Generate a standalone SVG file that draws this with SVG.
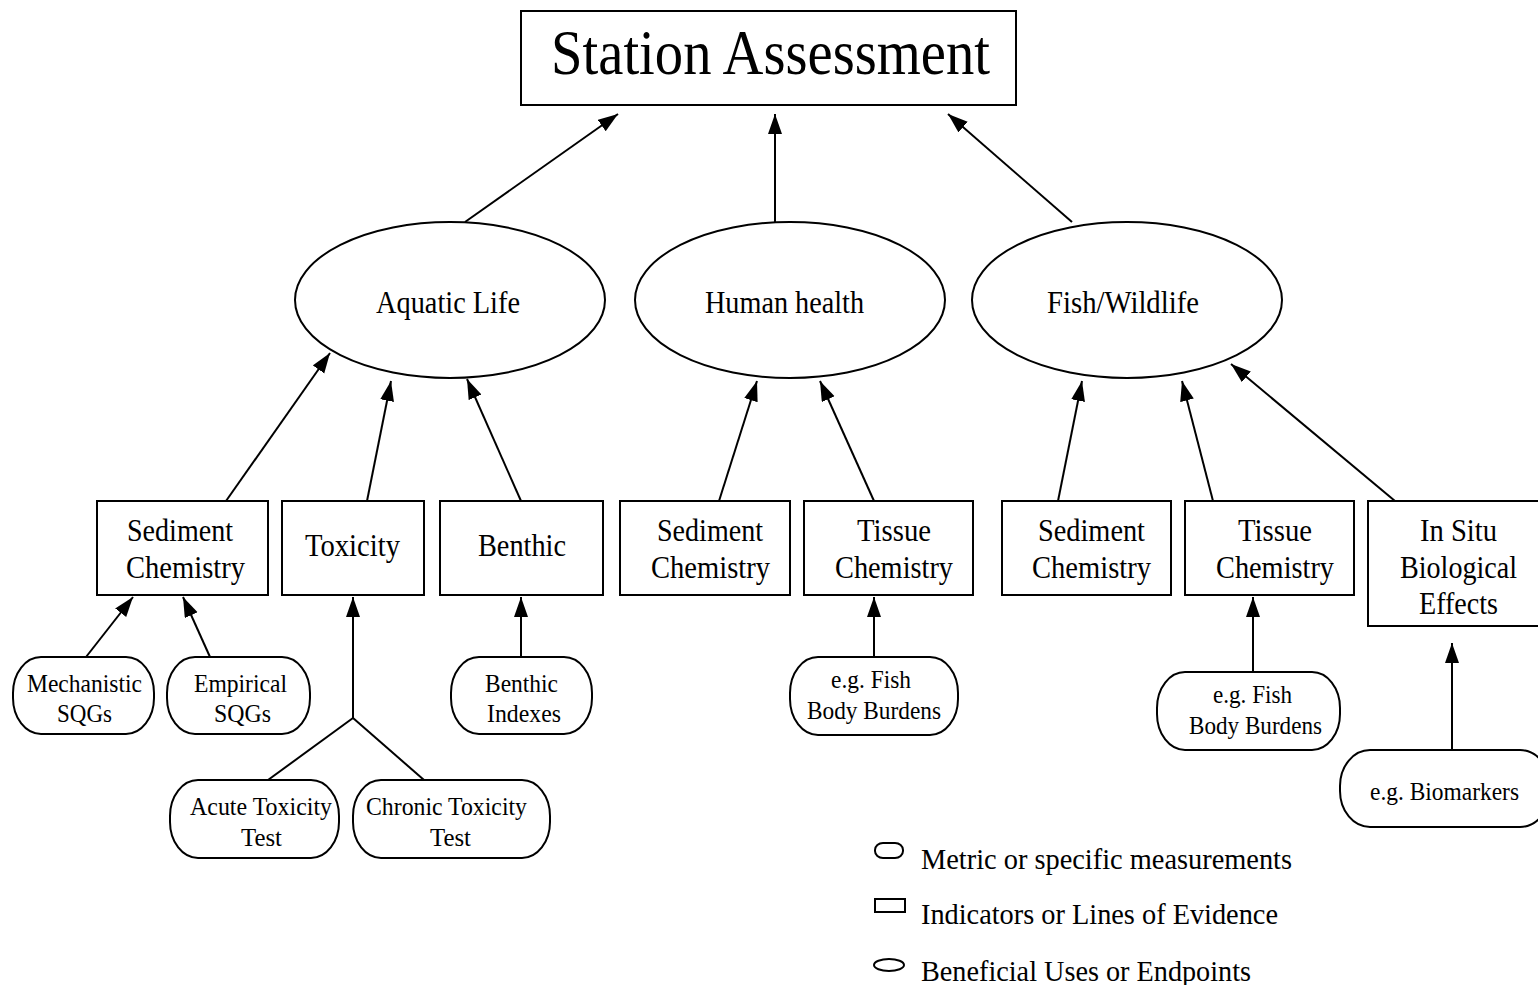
<svg xmlns="http://www.w3.org/2000/svg" width="1538" height="985" viewBox="0 0 1538 985">
<defs>
<marker id="arr" markerUnits="userSpaceOnUse" markerWidth="22" markerHeight="16" refX="20" refY="7" orient="auto">
<path d="M0,0 L20,7 L0,14 z" fill="#000"/>
</marker>
<style>
.n{fill:#fff;stroke:#000;stroke-width:2}
.t{font-family:"Liberation Serif","Times New Roman",serif;fill:#000}
.c{stroke:#000;stroke-width:2;fill:none}
.a{marker-end:url(#arr)}
</style>
</defs>
<rect width="1538" height="985" fill="#fff"/>
<g id="connectors">
<line class="c a" x1="465" y1="222" x2="618" y2="114"/>
<line class="c a" x1="775" y1="222" x2="775" y2="114"/>
<line class="c a" x1="1072" y1="222" x2="948" y2="114"/>
<line class="c a" x1="226" y1="501" x2="330" y2="353"/>
<line class="c a" x1="367" y1="501" x2="391" y2="381"/>
<line class="c a" x1="521" y1="501" x2="467" y2="379"/>
<line class="c a" x1="719" y1="501" x2="757" y2="381"/>
<line class="c a" x1="874" y1="501" x2="820" y2="381"/>
<line class="c a" x1="1058" y1="501" x2="1082" y2="381"/>
<line class="c a" x1="1213" y1="501" x2="1182" y2="381"/>
<line class="c a" x1="1395" y1="501" x2="1231" y2="364"/>
<line class="c a" x1="86" y1="657" x2="133" y2="597"/>
<line class="c a" x1="210" y1="657" x2="183" y2="597"/>
<line class="c a" x1="353" y1="718" x2="353" y2="597"/>
<line class="c" x1="268" y1="780" x2="353" y2="718"/>
<line class="c" x1="424" y1="780" x2="353" y2="718"/>
<line class="c a" x1="521" y1="657" x2="521" y2="597"/>
<line class="c a" x1="874" y1="657" x2="874" y2="597"/>
<line class="c a" x1="1253" y1="672" x2="1253" y2="597"/>
<line class="c a" x1="1452" y1="750" x2="1452" y2="643"/>
</g>
<g id="station">
<rect class="n" x="521" y="11" width="495" height="94"/>
<text class="t" x="551" y="74" font-size="64" textLength="439" lengthAdjust="spacingAndGlyphs">Station Assessment</text>
</g>
<g id="aquatic">
<ellipse class="n" cx="450" cy="300" rx="155" ry="78"/>
<text class="t" x="376" y="313" font-size="32" textLength="144" lengthAdjust="spacingAndGlyphs">Aquatic Life</text>
</g>
<g id="human">
<ellipse class="n" cx="790" cy="300" rx="155" ry="78"/>
<text class="t" x="705" y="313" font-size="32" textLength="159" lengthAdjust="spacingAndGlyphs">Human health</text>
</g>
<g id="fish">
<ellipse class="n" cx="1127" cy="300" rx="155" ry="78"/>
<text class="t" x="1047" y="313" font-size="32" textLength="152" lengthAdjust="spacingAndGlyphs">Fish/Wildlife</text>
</g>
<g id="sed1">
<rect class="n" x="97" y="501" width="171" height="94"/>
<text class="t" x="127" y="541" font-size="31" textLength="106" lengthAdjust="spacingAndGlyphs">Sediment</text>
<text class="t" x="126" y="578" font-size="31" textLength="119" lengthAdjust="spacingAndGlyphs">Chemistry</text>
</g>
<g id="tox">
<rect class="n" x="282" y="501" width="142" height="94"/>
<text class="t" x="305" y="556" font-size="31" textLength="95" lengthAdjust="spacingAndGlyphs">Toxicity</text>
</g>
<g id="benthic">
<rect class="n" x="440" y="501" width="163" height="94"/>
<text class="t" x="478" y="556" font-size="31" textLength="88" lengthAdjust="spacingAndGlyphs">Benthic</text>
</g>
<g id="sed2">
<rect class="n" x="620" y="501" width="170" height="94"/>
<text class="t" x="657" y="541" font-size="31" textLength="106" lengthAdjust="spacingAndGlyphs">Sediment</text>
<text class="t" x="651" y="578" font-size="31" textLength="119" lengthAdjust="spacingAndGlyphs">Chemistry</text>
</g>
<g id="tissue1">
<rect class="n" x="804" y="501" width="169" height="94"/>
<text class="t" x="857" y="541" font-size="31" textLength="74" lengthAdjust="spacingAndGlyphs">Tissue</text>
<text class="t" x="835" y="578" font-size="31" textLength="118" lengthAdjust="spacingAndGlyphs">Chemistry</text>
</g>
<g id="sed3">
<rect class="n" x="1002" y="501" width="169" height="94"/>
<text class="t" x="1038" y="541" font-size="31" textLength="107" lengthAdjust="spacingAndGlyphs">Sediment</text>
<text class="t" x="1032" y="578" font-size="31" textLength="119" lengthAdjust="spacingAndGlyphs">Chemistry</text>
</g>
<g id="tissue2">
<rect class="n" x="1185" y="501" width="169" height="94"/>
<text class="t" x="1238" y="541" font-size="31" textLength="74" lengthAdjust="spacingAndGlyphs">Tissue</text>
<text class="t" x="1216" y="578" font-size="31" textLength="118" lengthAdjust="spacingAndGlyphs">Chemistry</text>
</g>
<g id="insitu">
<rect class="n" x="1368" y="501" width="172" height="125"/>
<text class="t" x="1420" y="541" font-size="31" textLength="77" lengthAdjust="spacingAndGlyphs">In Situ</text>
<text class="t" x="1400" y="578" font-size="31" textLength="117" lengthAdjust="spacingAndGlyphs">Biological</text>
<text class="t" x="1419" y="614" font-size="31" textLength="79" lengthAdjust="spacingAndGlyphs">Effects</text>
</g>
<g id="mech">
<rect class="n" x="13" y="657" width="141" height="77" rx="28" ry="36"/>
<text class="t" x="27" y="692" font-size="26" textLength="115" lengthAdjust="spacingAndGlyphs">Mechanistic</text>
<text class="t" x="57" y="722" font-size="26" textLength="55" lengthAdjust="spacingAndGlyphs">SQGs</text>
</g>
<g id="emp">
<rect class="n" x="167" y="657" width="143" height="77" rx="28" ry="36"/>
<text class="t" x="194" y="692" font-size="26" textLength="93" lengthAdjust="spacingAndGlyphs">Empirical</text>
<text class="t" x="214" y="722" font-size="26" textLength="57" lengthAdjust="spacingAndGlyphs">SQGs</text>
</g>
<g id="bindex">
<rect class="n" x="451" y="657" width="141" height="77" rx="28" ry="36"/>
<text class="t" x="485" y="692" font-size="26" textLength="73" lengthAdjust="spacingAndGlyphs">Benthic</text>
<text class="t" x="487" y="722" font-size="26" textLength="74" lengthAdjust="spacingAndGlyphs">Indexes</text>
</g>
<g id="acute">
<rect class="n" x="170" y="780" width="169" height="78" rx="28" ry="36"/>
<text class="t" x="190" y="815" font-size="26" textLength="142" lengthAdjust="spacingAndGlyphs">Acute Toxicity</text>
<text class="t" x="241" y="846" font-size="26" textLength="41" lengthAdjust="spacingAndGlyphs">Test</text>
</g>
<g id="chronic">
<rect class="n" x="353" y="780" width="197" height="78" rx="28" ry="36"/>
<text class="t" x="366" y="815" font-size="26" textLength="161" lengthAdjust="spacingAndGlyphs">Chronic Toxicity</text>
<text class="t" x="430" y="846" font-size="26" textLength="41" lengthAdjust="spacingAndGlyphs">Test</text>
</g>
<g id="fishbody1">
<rect class="n" x="790" y="657" width="168" height="78" rx="28" ry="36"/>
<text class="t" x="831" y="688" font-size="26" textLength="80" lengthAdjust="spacingAndGlyphs">e.g. Fish</text>
<text class="t" x="807" y="719" font-size="26" textLength="134" lengthAdjust="spacingAndGlyphs">Body Burdens</text>
</g>
<g id="fishbody2">
<rect class="n" x="1157" y="672" width="183" height="78" rx="28" ry="36"/>
<text class="t" x="1213" y="703" font-size="26" textLength="79" lengthAdjust="spacingAndGlyphs">e.g. Fish</text>
<text class="t" x="1189" y="734" font-size="26" textLength="133" lengthAdjust="spacingAndGlyphs">Body Burdens</text>
</g>
<g id="biomarkers">
<rect class="n" x="1340" y="750" width="210" height="77" rx="30" ry="36"/>
<text class="t" x="1370" y="800" font-size="26" textLength="149" lengthAdjust="spacingAndGlyphs">e.g. Biomarkers</text>
</g>
<g id="legend">
<rect class="n" x="875" y="843" width="28" height="15" rx="8" ry="7"/>
<text class="t" x="921" y="869" font-size="30" textLength="371" lengthAdjust="spacingAndGlyphs">Metric or specific measurements</text>
<rect class="n" x="875" y="899" width="30" height="13"/>
<text class="t" x="921" y="924" font-size="30" textLength="357" lengthAdjust="spacingAndGlyphs">Indicators or Lines of Evidence</text>
<ellipse class="n" cx="889" cy="965" rx="15" ry="6"/>
<text class="t" x="921" y="981" font-size="30" textLength="330" lengthAdjust="spacingAndGlyphs">Beneficial Uses or Endpoints</text>
</g>
</svg>
